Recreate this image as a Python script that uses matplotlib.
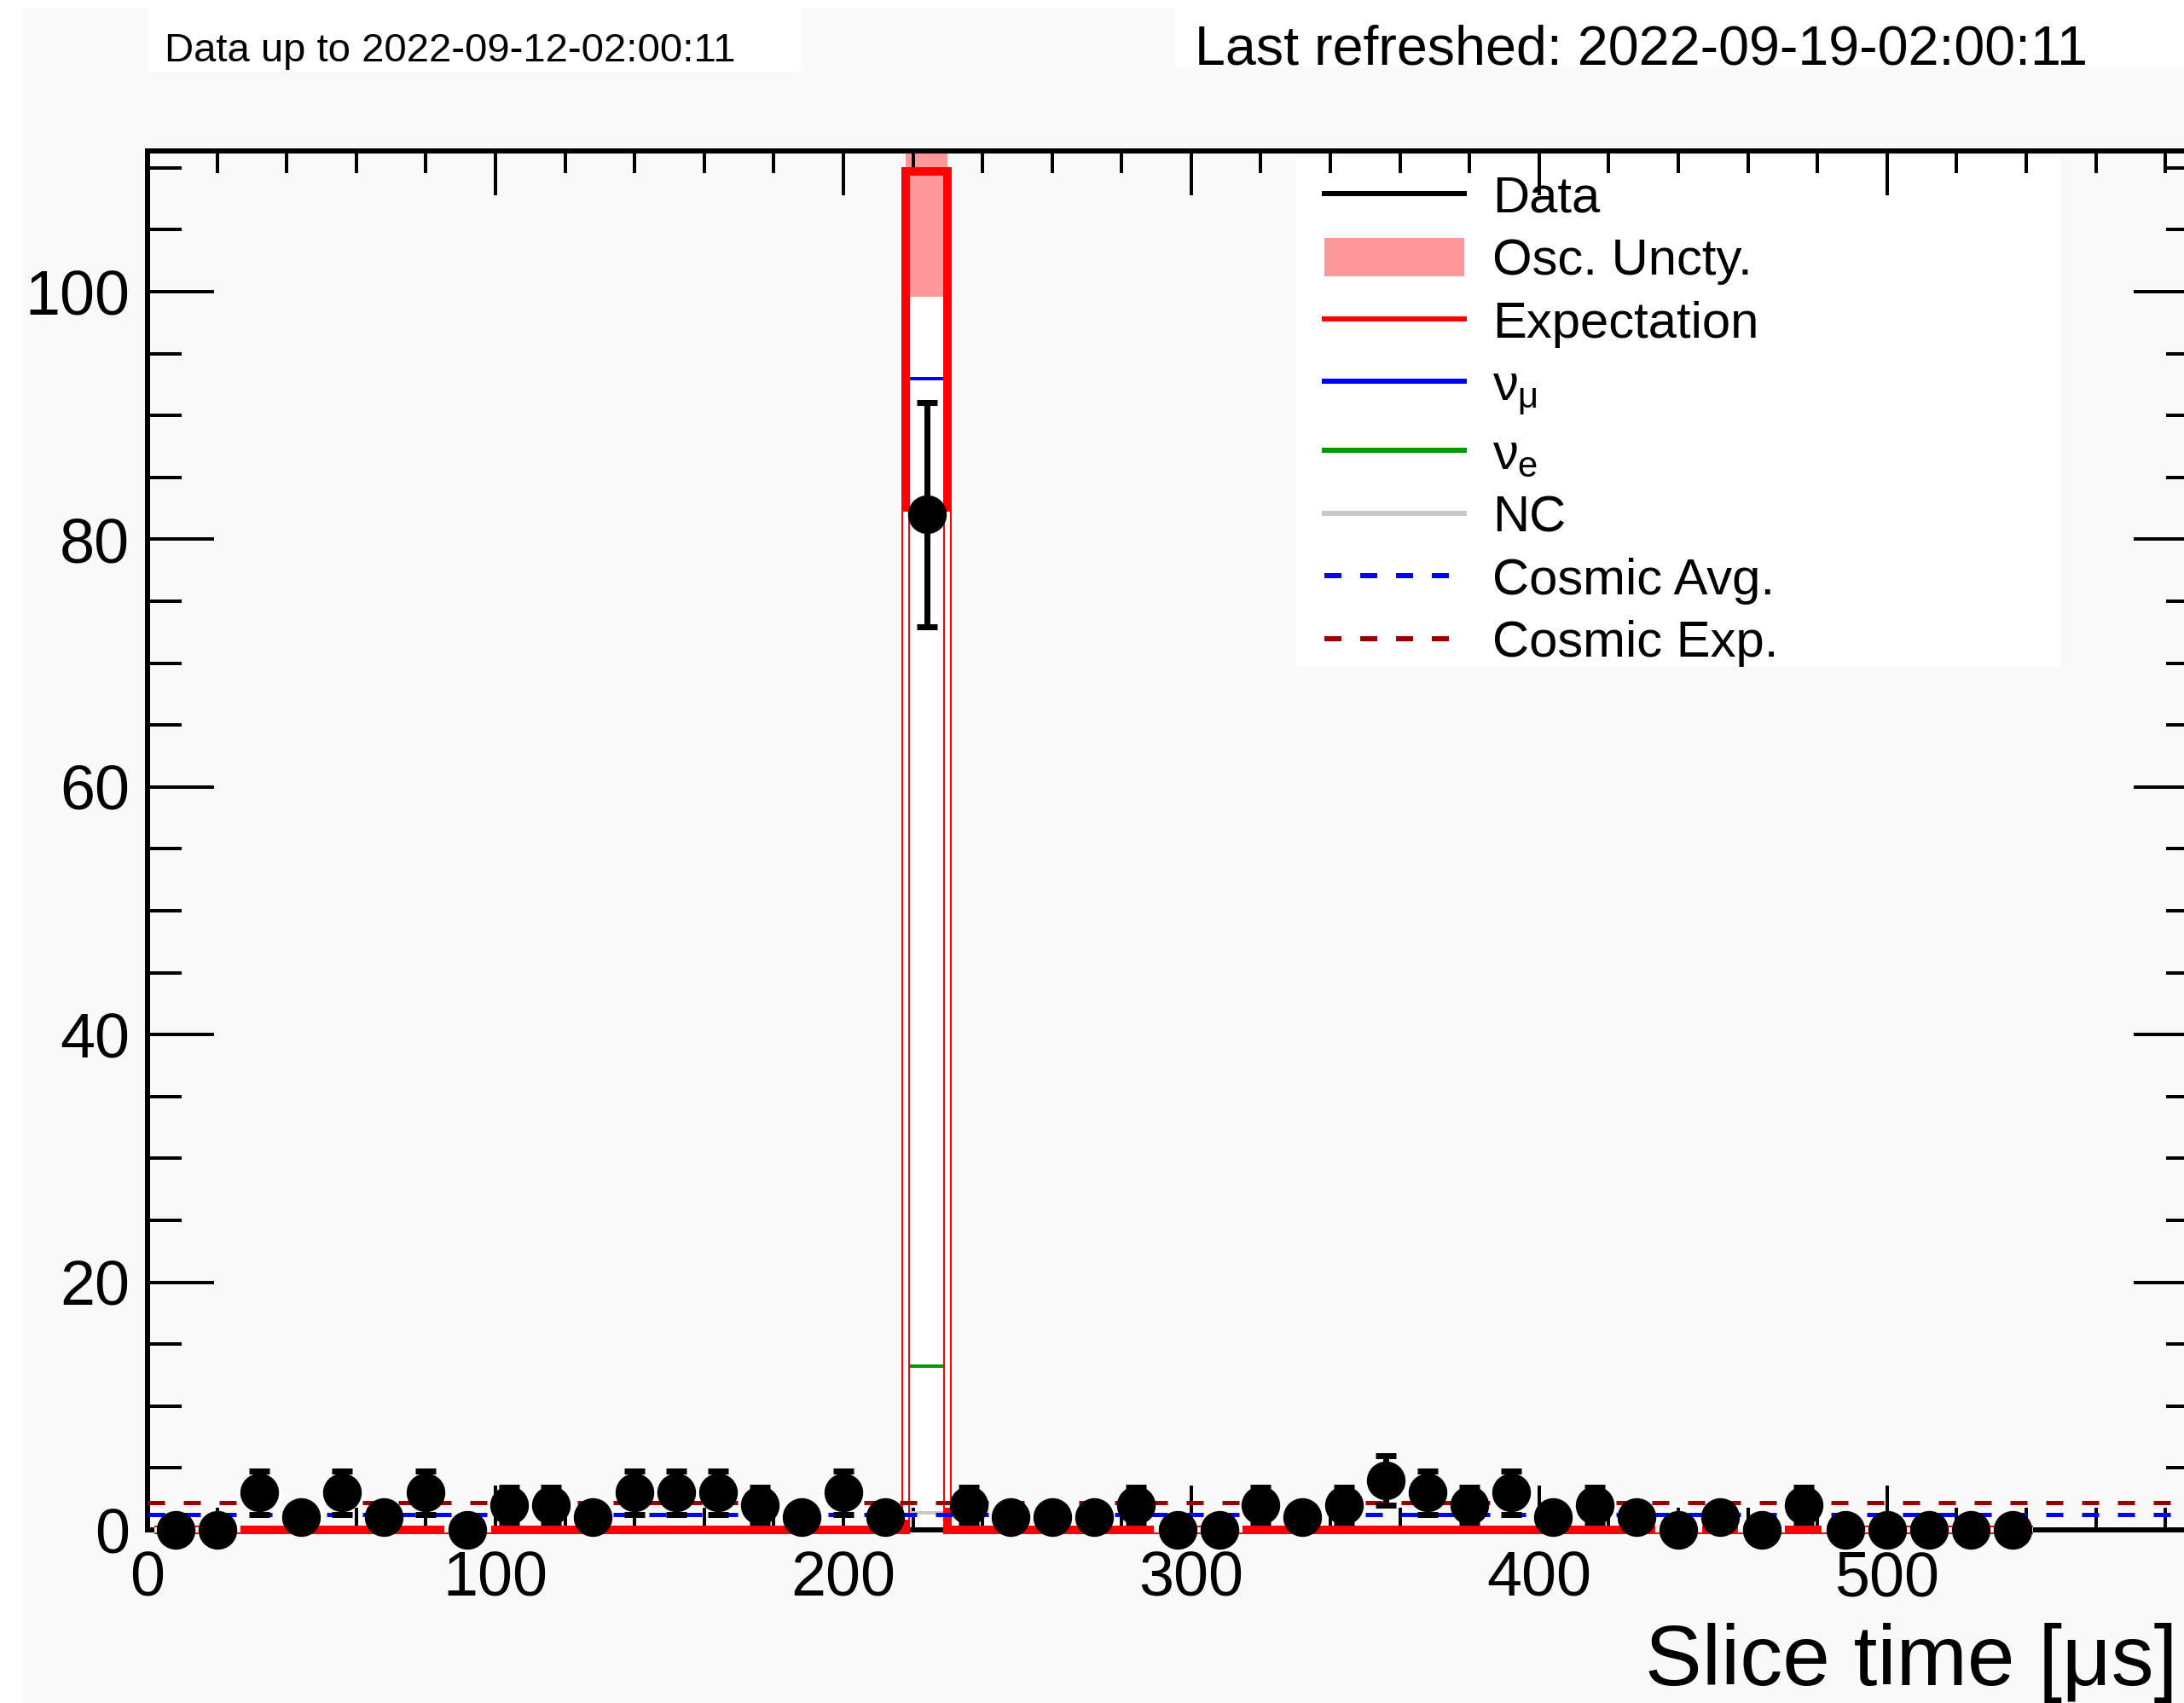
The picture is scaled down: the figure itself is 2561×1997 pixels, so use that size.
import numpy as np
import matplotlib.pyplot as plt
from matplotlib.lines import Line2D
from matplotlib.patches import Patch, Rectangle
from matplotlib.ticker import MultipleLocator

plt.rcParams['font.family'] = ['Liberation Sans', 'DejaVu Sans']
plt.rcParams['mathtext.fontset'] = 'custom'
plt.rcParams['mathtext.rm'] = 'Liberation Sans'
plt.rcParams['mathtext.it'] = 'Liberation Sans'
plt.rcParams['mathtext.sf'] = 'Liberation Sans'
plt.rcParams['lines.scale_dashes'] = False

# slice time bins, 12 us wide
bin_edges = np.arange(2, 543, 12)
data = [0, 0, 3, 1, 3, 1, 3, 0, 2, 2, 1, 3, 3, 3, 2, 1, 3, 1, 82, 2, 1, 1, 1,
        2, 0, 0, 2, 1, 2, 4, 3, 2, 3, 1, 2, 1, 0, 1, 0, 2, 0, 0, 0, 0, 0]
# predictions, only the beam bin (index 18) is visibly non zero
expect = [0.02] * 18 + [109.7] + [0.02] * 26
osc_up = [0.0] * 18 + [118.0] + [0.0] * 26
osc_down = [0.0] * 18 + [99.6] + [0.0] * 26
numu = [0.0] * 18 + [93.0] + [0.0] * 26
nue = [0.0] * 18 + [13.2] + [0.0] * 26
nc = [0.0] * 18 + [1.4] + [0.0] * 26
cosmic_avg = 1.24
cosmic_exp = 2.2

W, H = 2561, 1997
px = 72 / 100  # points per pixel at dpi 100

fig = plt.figure(figsize=(W / 100, H / 100), dpi=100, facecolor='white')
# grey canvas with a thin white edge on the left and top
fig.patches.append(Rectangle((27 / W, 0), 1, 1 - 10 / H, transform=fig.transFigure,
                             facecolor='#f9f9f9', edgecolor='none', zorder=-10))
# white boxes behind the header texts
fig.patches.append(Rectangle((173 / W, 1 - 84 / H), (939 - 173) / W, 74 / H,
                             transform=fig.transFigure, facecolor='white',
                             edgecolor='none', zorder=-5))
fig.patches.append(Rectangle((1377 / W, 1 - 78 / H), (W - 1377) / W, 68 / H,
                             transform=fig.transFigure, facecolor='white',
                             edgecolor='none', zorder=-5))

x0, x1 = 173, 2580
y0, y1 = 1794, 177
ax = fig.add_axes([x0 / W, (H - y0) / H, (x1 - x0) / W, (y0 - y1) / H])
ax.set_facecolor('#f9f9f9')
ax.set_xlim(0, 590)
ax.set_ylim(0, (y0 - y1) / 14.52)

# oscillation band: upper filled pink, lower filled white
ax.stairs(osc_up, bin_edges, fill=True, color='#ff9999', lw=0, zorder=1)
ax.stairs(osc_down, bin_edges, fill=True, color='white', lw=0, zorder=1.1)

for s in ax.spines.values():
    s.set_linewidth(6 * px)
    s.set_zorder(1.5)
ax.xaxis.set_zorder(1.5)
ax.yaxis.set_zorder(1.5)

ax.stairs(numu, bin_edges, color='blue', lw=4 * px, zorder=2, baseline=None)
ax.stairs(nue, bin_edges, color='#009900', lw=4 * px, zorder=2, baseline=None)
ax.stairs(nc, bin_edges, color='#c8c8c8', lw=4 * px, zorder=2.1, baseline=None)
ax.stairs(expect, bin_edges, color='red', lw=10 * px, zorder=3, baseline=None,
          clip_on=False)
# data histogram outline in white
ax.stairs(data, bin_edges, color='white', lw=6 * px, zorder=4, baseline=None,
          clip_on=False)

ax.axhline(cosmic_avg, color='blue', lw=5 * px, dashes=(20 * px, 22 * px), zorder=5)
ax.axhline(cosmic_exp, color='#990000', lw=5 * px, dashes=(20 * px, 22 * px), zorder=5)

centers = (bin_edges[:-1] + bin_edges[1:]) / 2
ax.errorbar(centers, data, yerr=np.sqrt(data), fmt='o', color='black',
            ms=44 * px, elinewidth=7 * px, capsize=12 * px, capthick=7 * px,
            zorder=6, clip_on=False)

ax.xaxis.set_major_locator(MultipleLocator(100))
ax.xaxis.set_minor_locator(MultipleLocator(20))
ax.yaxis.set_major_locator(MultipleLocator(20))
ax.yaxis.set_minor_locator(MultipleLocator(5))
ax.tick_params(which='both', direction='in', top=True, right=True,
               width=4 * px, labelsize=53)
ax.tick_params(axis='y', which='major', length=78 * px, pad=21 * px)
ax.tick_params(axis='y', which='minor', length=40 * px)
ax.tick_params(axis='x', which='major', length=52 * px, pad=24 * px)
ax.tick_params(axis='x', which='minor', length=26 * px)

fig.text(2553 / W, (H - 1976) / H, 'Slice time [μs]', ha='right', va='baseline',
         fontsize=72)
fig.text(193 / W, (H - 72) / H, 'Data up to 2022-09-12-02:00:11', ha='left',
         va='baseline', fontsize=34)
fig.text(1401 / W, (H - 76) / H, 'Last refreshed: 2022-09-19-02:00:11', ha='left',
         va='baseline', fontsize=46.5)

# legend on a wide white box
ax.add_patch(Rectangle((1520 / W, 1 - 781 / H), (2417 - 1520) / W, (781 - 185) / H,
                       transform=fig.transFigure, facecolor='white',
                       edgecolor='none', zorder=1.2, clip_on=False))
dash = (20 * px, 22 * px)
lw_leg = 6 * px
handles = [
    Line2D([], [], color='black', lw=lw_leg),
    Patch(facecolor='#ff9999', edgecolor='none'),
    Line2D([], [], color='red', lw=lw_leg),
    Line2D([], [], color='blue', lw=lw_leg),
    Line2D([], [], color='#009900', lw=lw_leg),
    Line2D([], [], color='#c8c8c8', lw=lw_leg),
    Line2D([], [], color='blue', lw=lw_leg, dashes=dash),
    Line2D([], [], color='#990000', lw=lw_leg, dashes=dash),
]
labels = ['Data', 'Osc. Uncty.', 'Expectation', r'$\nu_{\mu}$', r'$\nu_{\mathrm{e}}$',
          'NC', 'Cosmic Avg.', 'Cosmic Exp.']
leg = fig.legend(handles, labels, loc='upper left',
                 bbox_to_anchor=(1553 / W, 1 - 205 / H), frameon=False,
                 fontsize=43, handlelength=2.75, handletextpad=0.55,
                 handleheight=0.8, labelspacing=0.3, borderpad=0, borderaxespad=0)

fig.savefig('out.png', dpi=100, facecolor=fig.get_facecolor())
